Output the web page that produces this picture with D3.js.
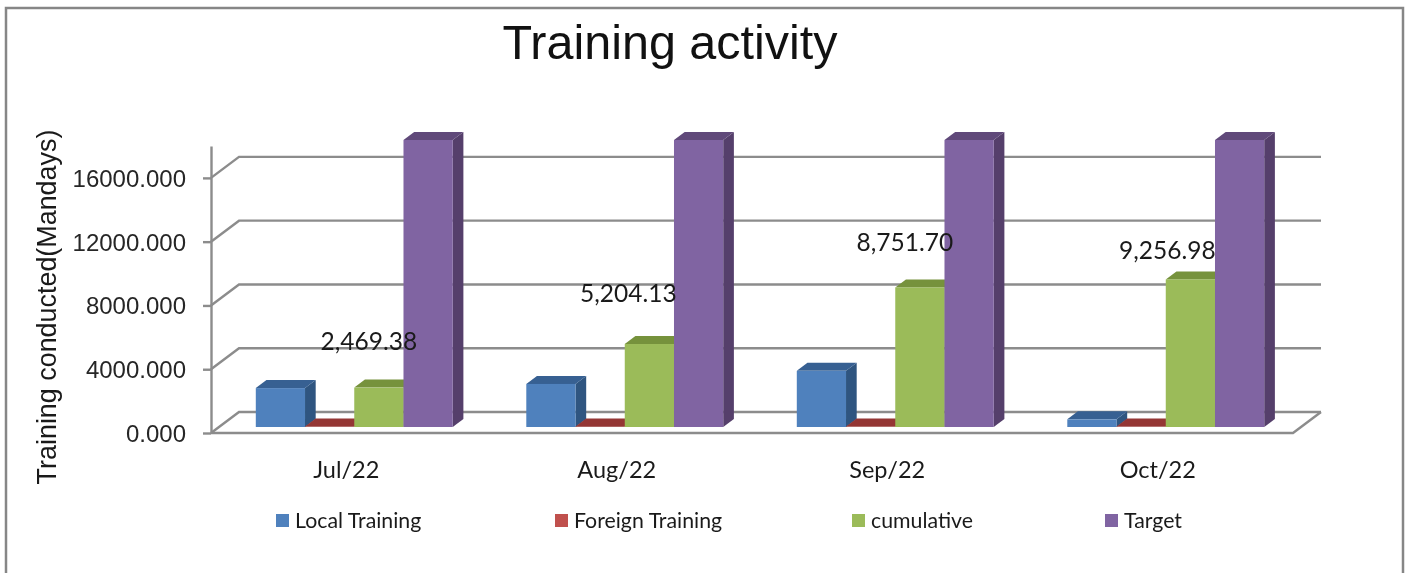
<!DOCTYPE html>
<html>
<head>
<meta charset="utf-8">
<script src="https://cdn.jsdelivr.net/npm/d3@7"></script>
<style>
  html, body { margin: 0; padding: 0; background: #fff; overflow: hidden; }
  svg { display: block; filter: blur(0.45px); }
  .sans { font-family: "Liberation Sans", Arial, sans-serif; }
  .cal { font-family: Lato, Carlito, sans-serif; }
</style>
</head>
<body>
<svg id="chart" width="1407" height="573"></svg>
<script>
// Data
const months = ["Jul/22", "Aug/22", "Sep/22", "Oct/22"];
const seriesNames = ["Local Training", "Foreign Training", "cumulative", "Target"];
const localTraining = [2440, 2700, 3520, 480];
const foreignTraining = [29, 35, 28, 25];
const cumulative = [2469.38, 5204.13, 8751.70, 9256.98];
const target = [18000, 18000, 18000, 18000];
const yTicks = [0, 4000, 8000, 12000, 16000];

const seriesValues = [localTraining, foreignTraining, cumulative, target];

// Front, top and side colours per series
const frontColors = ["#4f81bd", "#953735", "#9bbb59", "#8064a2"];
const topColors = ["#376092", "#943634", "#76923c", "#60497a"];
const sideColors = ["#2f5580", "#7a2c2a", "#66803a", "#553f6b"];
const legendColors = ["#4f81bd", "#c0504d", "#9bbb59", "#8064a2"];

// Chart dimensions
const plot = { left: 211, right: 1293, zero: 433, top: 146 };
const wall = { dx: 28, dy: 21 };          // depth of the floor
const barDepth = { start: 0.286, end: 0.667 };

const svg = d3.select("#chart");

// Frame, open at the bottom
svg.append("path")
  .attr("d", "M6,573V8H1403V573")
  .attr("fill", "none")
  .attr("stroke", "#868686")
  .attr("stroke-width", 2.5);

// Scales
const x0 = d3.scaleBand().domain(months).range([plot.left, plot.right]).paddingInner(0.272).paddingOuter(0.136);
const x1 = d3.scaleBand().domain(seriesNames).range([0, x0.bandwidth()]);
const y = d3.scaleLinear().domain([0, 18000]).range([plot.zero, plot.top]);

// Move a point back into the depth of the chart
const px = (xv, d) => xv + d * wall.dx;
const py = (yv, d) => yv - d * wall.dy;

// Walls and floor
const grid = svg.append("g")
  .attr("fill", "none")
  .attr("stroke", "#8c8c8c")
  .attr("stroke-width", 2.4);

grid.selectAll(".grid")
  .data(yTicks)
  .enter()
  .append("path")
  .attr("class", "grid")
  .attr("d", d => `M${plot.left},${y(d)}L${px(plot.left, 1)},${py(y(d), 1)}H${px(plot.right, 1)}`);

grid.append("path")
  .attr("d", `M${plot.left},${plot.zero}H${plot.right}L${px(plot.right, 1)},${py(plot.zero, 1)}`);

// Y axis
const yAxis = d3.axisLeft(y)
  .tickValues(yTicks)
  .tickFormat(d3.format(".3f"))
  .tickSize(8)
  .tickPadding(17)
  .tickSizeOuter(0);

const yG = svg.append("g")
  .attr("transform", `translate(${plot.left},0)`)
  .attr("class", "sans")
  .call(yAxis);
yG.select(".domain").attr("stroke", "#8c8c8c").attr("stroke-width", 2.4);
yG.selectAll("line").attr("stroke", "#8c8c8c").attr("stroke-width", 2.4);
yG.selectAll("text")
  .attr("font-size", 24)
  .attr("fill", "#262626")
  .attr("dy", "0.35em");

// Category labels
const xAxis = d3.axisBottom(x0).tickSize(0).tickPadding(28);
const xG = svg.append("g")
  .attr("transform", `translate(0,${plot.zero})`)
  .attr("class", "cal")
  .call(xAxis);
xG.select(".domain").remove();
xG.selectAll("text")
  .attr("font-size", 23.5)
  .attr("fill", "#1a1a1a");

// Bars
const base = d => px(x0(months[d.m]) + x1(seriesNames[d.s]), barDepth.start);
const depthX = (barDepth.end - barDepth.start) * wall.dx;
const depthY = (barDepth.end - barDepth.start) * wall.dy;
const barBase = py(y(0), barDepth.start);
const heightOf = v => y(0) - y(v);

months.forEach((month, m) => {
  seriesNames.forEach((name, s) => {
    const d = { m, s, value: seriesValues[s][m] };
    const left = base(d);
    const w = x1.bandwidth();
    const topY = barBase - heightOf(d.value);
    const g = svg.append("g");

    g.append("path")
      .attr("fill", sideColors[s])
      .attr("d", `M${left + w},${topY}l${depthX},${-depthY}V${barBase - depthY}L${left + w},${barBase}Z`);
    g.append("path")
      .attr("fill", topColors[s])
      .attr("d", `M${left},${topY}l${depthX},${-depthY}h${w}l${-depthX},${depthY}Z`);
    g.append("rect")
      .attr("x", left)
      .attr("y", topY)
      .attr("width", w)
      .attr("height", barBase - topY)
      .attr("fill", frontColors[s]);
  });
});

// Data labels on the cumulative series, hand placed in the original
const labelNudge = [[-10, -46], [-21, -51], [-15, -45], [-23, -29]];
svg.selectAll(".label")
  .data(cumulative)
  .enter()
  .append("text")
  .attr("class", "label cal")
  .attr("x", (d, i) => px(x0(months[i]) + x1("cumulative") + x1.bandwidth() / 2, barDepth.start) + labelNudge[i][0])
  .attr("y", (d, i) => barBase - heightOf(d) + labelNudge[i][1])
  .attr("dy", "0.35em")
  .attr("text-anchor", "middle")
  .attr("font-size", 24.5)
  .attr("fill", "#1a1a1a")
  .text(d => d3.format(",.2f")(d));

// Axis title
svg.append("text")
  .attr("class", "sans")
  .attr("transform", "translate(56,307) rotate(-90)")
  .attr("text-anchor", "middle")
  .attr("font-size", 26.9)
  .attr("fill", "#1a1a1a")
  .text("Training conducted(Mandays)");

// Title
svg.append("text")
  .attr("class", "sans")
  .attr("x", 670)
  .attr("y", 59)
  .attr("text-anchor", "middle")
  .attr("font-size", 48.5)
  .attr("fill", "#111")
  .text("Training activity");

// Legend
const legendX = [276, 555, 852, 1105];
const legend = svg.selectAll(".legend")
  .data(seriesNames)
  .enter()
  .append("g")
  .attr("class", "legend cal")
  .attr("transform", (d, i) => `translate(${legendX[i]},514)`);
legend.append("rect")
  .attr("width", 13)
  .attr("height", 13)
  .attr("fill", (d, i) => legendColors[i]);
legend.append("text")
  .attr("x", 19)
  .attr("y", 7)
  .attr("dy", "0.35em")
  .attr("font-size", 21.3)
  .attr("fill", "#1a1a1a")
  .text(d => d);
</script>
</body>
</html>
